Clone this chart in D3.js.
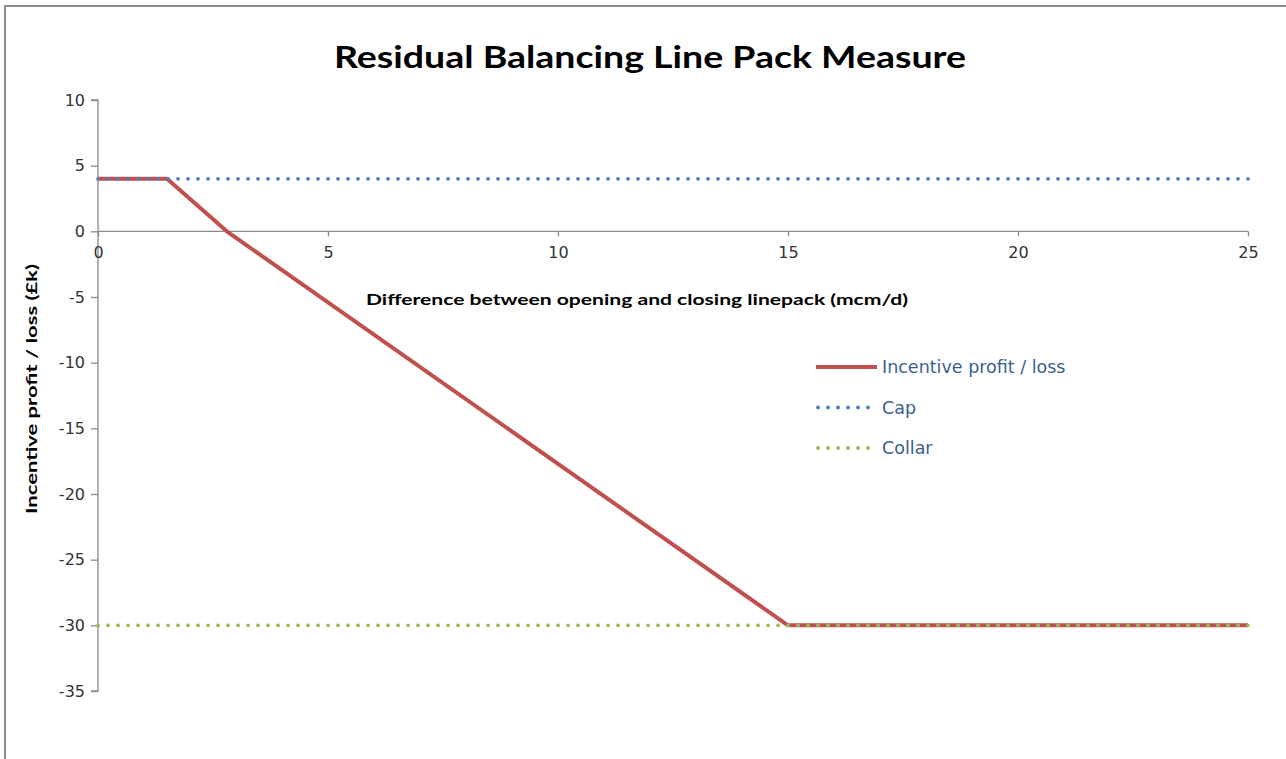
<!DOCTYPE html>
<html>
<head>
<meta charset="utf-8">
<script src="https://cdn.jsdelivr.net/npm/d3@7"></script>
<style>
  body { margin: 0; background: #fff; }
  svg { display: block; }
</style>
</head>
<body>
<svg id="chart" width="1286" height="759"></svg>
<script>
// Incentive profit / loss (£k) against linepack difference (mcm/d)
const incentiveX = [0, 1.5, 2.8, 15, 25];
const incentiveY = [4, 4, 0, -30, -30];
const capX = [0, 25];
const capY = [4, 4];
const collarX = [0, 25];
const collarY = [-30, -30];
const xTicks = [0, 5, 10, 15, 20, 25];
const yTicks = [10, 5, 0, -5, -10, -15, -20, -25, -30, -35];
const legendLabels = ["Incentive profit / loss", "Cap", "Collar"];

const svg = d3.select("#chart");
const W = 1286, H = 759;
const font = "Lato, 'Open Sans', sans-serif";
const tickFont = "'DejaVu Sans', Verdana, sans-serif";

// outer chart frame
svg.append("path")
  .attr("d", `M5,${H} L5,6 L${W},6`)
  .attr("fill", "none").attr("stroke", "#8c8c8c").attr("stroke-width", 2);

const x = d3.scaleLinear().domain([0, 25]).range([98, 1248]);
const y = d3.scaleLinear().domain([-35, 10]).range([691, 100]);

const axisColor = "#8a8a8a";
const labelColor = "#333";
const fmt = d => String(d);

// y axis
const yAxis = svg.append("g").attr("transform", `translate(${x(0)},0)`)
  .call(d3.axisLeft(y).tickValues(yTicks).tickSize(7).tickPadding(6).tickFormat(fmt));
yAxis.select(".domain").attr("stroke", axisColor).attr("stroke-width", 1.3).attr("d", `M-7,${y(10)}H0V${y(-35)}H-7`);
yAxis.selectAll(".tick line").attr("stroke", axisColor).attr("stroke-width", 1.3);
yAxis.selectAll(".tick text").attr("font-family", tickFont).attr("font-size", 16).attr("fill", labelColor);

// x axis along zero
const xAxis = svg.append("g").attr("transform", `translate(0,${y(0)})`)
  .call(d3.axisBottom(x).tickValues(xTicks).tickSize(5).tickPadding(10).tickFormat(fmt));
xAxis.select(".domain").attr("stroke", axisColor).attr("stroke-width", 1.3).attr("d", `M${x(0)},0H${x(25)}`);
xAxis.selectAll(".tick line").attr("stroke", axisColor).attr("stroke-width", 1.3);
xAxis.selectAll(".tick text").attr("font-family", tickFont).attr("font-size", 16).attr("fill", labelColor);

const line = d3.line().x(d => x(d[0])).y(d => y(d[1]));

// series: solid incentive line underneath the dotted cap and collar
svg.append("path").datum(d3.zip(incentiveX, incentiveY)).attr("d", line)
  .attr("fill", "none").attr("stroke", "#C0504D").attr("stroke-width", 4).attr("stroke-linejoin", "round");
svg.append("path").datum(d3.zip(capX, capY)).attr("d", line)
  .attr("fill", "none").attr("stroke", "#4F81BD").attr("stroke-width", 3.8)
  .attr("stroke-linecap", "round").attr("stroke-dasharray", "0.1,9.9");
svg.append("path").datum(d3.zip(collarX, collarY)).attr("d", line)
  .attr("fill", "none").attr("stroke", "#9BBB59").attr("stroke-width", 3.8)
  .attr("stroke-linecap", "round").attr("stroke-dasharray", "0.1,9.9");

// titles
svg.append("text").attr("x", 650).attr("y", 68).attr("text-anchor", "middle")
  .attr("font-family", font).attr("font-weight", "bold").attr("font-size", 31).attr("fill", "#000")
  .attr("textLength", 632).attr("lengthAdjust", "spacingAndGlyphs")
  .text("Residual Balancing Line Pack Measure");
svg.append("text").attr("x", 637).attr("y", 305).attr("text-anchor", "middle")
  .attr("font-family", font).attr("font-weight", "bold").attr("font-size", 16).attr("fill", "#000")
  .attr("textLength", 542).attr("lengthAdjust", "spacingAndGlyphs")
  .text("Difference between opening and closing linepack (mcm/d)");
svg.append("text").attr("transform", "translate(37,389) rotate(-90)").attr("text-anchor", "middle")
  .attr("font-family", font).attr("font-weight", "bold").attr("font-size", 16).attr("fill", "#000")
  .attr("textLength", 250).attr("lengthAdjust", "spacingAndGlyphs")
  .text("Incentive profit / loss (£k)");

// legend
const legendStyles = [
  { color: "#C0504D", width: 4, dash: null, cap: "butt" },
  { color: "#4F81BD", width: 3.8, dash: "0.1,9.9", cap: "round" },
  { color: "#9BBB59", width: 3.8, dash: "0.1,9.9", cap: "round" }
];
const legendY = d3.scalePoint().domain(legendLabels).range([367, 448]);
const lg = svg.append("g");
legendLabels.forEach((lab, i) => {
  const s = legendStyles[i];
  const yy = legendY(lab);
  const l = lg.append("line").attr("x1", i === 0 ? 816 : 818).attr("x2", i === 0 ? 877 : 870)
    .attr("y1", yy).attr("y2", yy)
    .attr("stroke", s.color).attr("stroke-width", s.width).attr("stroke-linecap", s.cap);
  if (s.dash) l.attr("stroke-dasharray", s.dash);
  lg.append("text").attr("x", 882).attr("y", yy).attr("dy", "0.35em")
    .attr("font-family", tickFont).attr("font-size", 17.5).attr("fill", "#3a5f8e").text(lab);
});
</script>
</body>
</html>
